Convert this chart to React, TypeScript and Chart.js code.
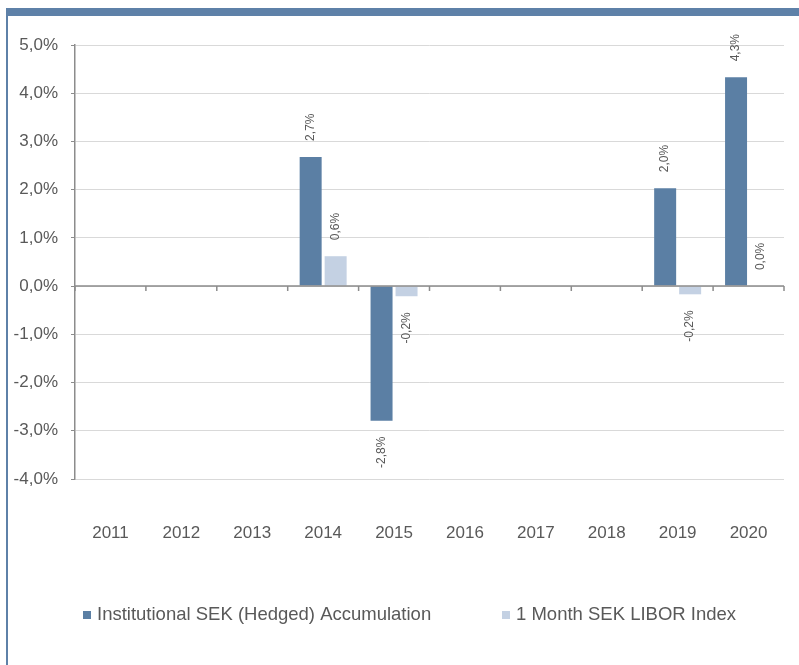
import React, { useEffect, useRef } from "react";
import { Chart, registerables } from "chart.js";

Chart.register(...registerables);

const years = ["2011", "2012", "2013", "2014", "2015", "2016", "2017", "2018", "2019", "2020"];
const fundReturns: (number | null)[] = [null, null, null, 2.68, -2.79, null, null, null, 2.03, 4.33];
const liborReturns: (number | null)[] = [null, null, null, 0.62, -0.21, null, null, null, -0.17, 0.0];
const seriesNames = ["Institutional SEK (Hedged) Accumulation", "1 Month SEK LIBOR Index"];
const seriesColors = ["#5b7fa4", "#c4d1e3"];
const yMin = -4;
const yMax = 5;
const yStep = 1;

const FONT = "'Liberation Sans', Arial, sans-serif";
const TEXT = "#595959";

const fmt = (v: number) => v.toFixed(1).replace(".", ",") + "%";

const framePlugin = {
  id: "frame",
  beforeDraw(chart: any) {
    const ctx = chart.ctx;
    ctx.save();
    ctx.fillStyle = "#ffffff";
    ctx.fillRect(0, 0, chart.width, chart.height);
    ctx.fillStyle = "#5e81a8";
    ctx.fillRect(6, 8, chart.width - 6, 8);
    ctx.fillRect(6, 8, 2, chart.height - 8);
    ctx.restore();
  },
};

const zeroAxisPlugin = {
  id: "zeroAxis",
  afterDatasetsDraw(chart: any) {
    const ctx = chart.ctx;
    const x = chart.scales.x;
    const y = chart.scales.y;
    const y0 = y.getPixelForValue(0);
    const n = chart.data.labels.length;
    const step = (x.right - x.left) / n;
    ctx.save();
    ctx.strokeStyle = "#8c8c8c";
    ctx.lineWidth = 1.5;
    ctx.beginPath();
    ctx.moveTo(x.left, y0);
    ctx.lineTo(x.right, y0);
    for (let i = 0; i <= n; i++) {
      const px = x.left + i * step;
      ctx.moveTo(px, y0);
      ctx.lineTo(px, y0 + 5);
    }
    ctx.stroke();
    ctx.restore();
  },
};

const valueLabelPlugin = {
  id: "valueLabels",
  afterDatasetsDraw(chart: any) {
    const ctx = chart.ctx;
    ctx.save();
    ctx.font = `12px ${FONT}`;
    ctx.fillStyle = TEXT;
    ctx.textBaseline = "middle";
    chart.data.datasets.forEach((ds: any, di: number) => {
      const meta = chart.getDatasetMeta(di);
      meta.data.forEach((bar: any, i: number) => {
        const v = ds.data[i];
        if (v === null || v === undefined) return;
        ctx.save();
        if (v >= 0) {
          ctx.translate(bar.x, Math.min(bar.y, bar.base) - 16);
          ctx.rotate(-Math.PI / 2);
          ctx.textAlign = "left";
        } else {
          ctx.translate(bar.x, Math.max(bar.y, bar.base) + 16);
          ctx.rotate(-Math.PI / 2);
          ctx.textAlign = "right";
        }
        ctx.fillText(fmt(v), 0, 0);
        ctx.restore();
      });
    });
    ctx.restore();
  },
};

const legendPlugin = {
  id: "customLegend",
  afterDraw(chart: any) {
    const ctx = chart.ctx;
    const starts = [83, 502];
    ctx.save();
    ctx.font = `18.5px ${FONT}`;
    ctx.textBaseline = "middle";
    ctx.textAlign = "left";
    chart.data.datasets.forEach((ds: any, i: number) => {
      const sx = starts[i];
      ctx.fillStyle = ds.backgroundColor;
      ctx.fillRect(sx, 611, 8, 8);
      ctx.fillStyle = TEXT;
      ctx.fillText(ds.label, sx + 14, 615);
    });
    ctx.restore();
  },
};

export default function App() {
  const ref = useRef<HTMLCanvasElement | null>(null);

  useEffect(() => {
    if (!ref.current) return;
    const chart = new Chart(ref.current, {
      type: "bar",
      data: {
        labels: years,
        datasets: [
          {
            label: seriesNames[0],
            data: fundReturns,
            backgroundColor: seriesColors[0],
            categoryPercentage: 0.705,
            barPercentage: 0.88,
          },
          {
            label: seriesNames[1],
            data: liborReturns,
            backgroundColor: seriesColors[1],
            categoryPercentage: 0.705,
            barPercentage: 0.88,
          },
        ],
      },
      options: {
        responsive: false,
        animation: false,
        devicePixelRatio: 1,
        layout: { padding: { left: 0, right: 15, top: 45, bottom: 116 } },
        plugins: {
          legend: { display: false },
          tooltip: { enabled: false },
        },
        scales: {
          x: {
            grid: { display: false, drawTicks: true, tickLength: 44 },
            border: { display: false },
            ticks: {
              padding: 0,
              color: TEXT,
              font: { family: FONT, size: 17 },
              maxRotation: 0,
            },
            afterFit: (s: any) => {
              s.height = 70;
            },
          },
          y: {
            min: yMin,
            max: yMax,
            grid: {
              color: "#d9d9d9",
              lineWidth: 1,
              drawTicks: true,
              tickLength: 4,
              tickColor: "#8c8c8c",
            },
            border: { display: true, color: "#8c8c8c", width: 1.5 },
            ticks: {
              stepSize: yStep,
              padding: 13,
              color: TEXT,
              font: { family: FONT, size: 17 },
              callback: (v: any) => fmt(Number(v)),
            },
            afterFit: (s: any) => {
              s.width = 75;
            },
          },
        },
      },
      plugins: [framePlugin, zeroAxisPlugin, valueLabelPlugin, legendPlugin],
    } as any);
    return () => chart.destroy();
  }, []);

  return (
    <div style={{ position: "fixed", left: 0, top: 0, width: 799, height: 665, background: "#fff" }}>
      <canvas ref={ref} width={799} height={665} style={{ display: "block" }} />
    </div>
  );
}
